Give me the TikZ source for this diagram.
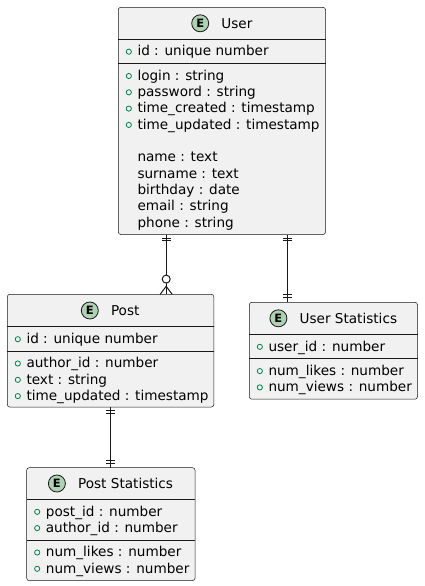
\documentclass[tikz,border=0pt]{standalone}
\usepackage{fontspec}
\setmainfont{DejaVu Sans}
\usetikzlibrary{calc}
\definecolor{boxfill}{HTML}{F1F1F1}
\definecolor{boxline}{HTML}{181818}
\definecolor{iconfill}{HTML}{ADD1B2}
\definecolor{fieldgreen}{HTML}{038048}
\newcommand{\efield}[4]{%
  \draw[fieldmark] (#2+10.5,#3+0.3) circle[radius=2.6];
  \node[fieldtext,name=#1] at (#2+19,#3+4.6) {#4};}
\newcommand{\eplain}[4]{%
  \node[fieldtext,name=#1] at (#2+19,#3+4.6) {#4};}
\begin{document}
\begin{tikzpicture}[x=1pt,y=-1pt,
  entity/.style={draw=boxline,line width=0.5pt,fill=boxfill,rounded corners=2.5pt,
    anchor=north west,inner sep=0pt,outer sep=0pt},
  hdrline/.style={draw=boxline,line width=0.5pt},
  sepline/.style={draw=boxline,line width=1pt},
  fieldmark/.style={draw=fieldgreen,line width=0.8pt},
  fieldtext/.style={anchor=base west,inner sep=0pt,text=black,font=\fontsize{13.6}{16}\selectfont},
  titletext/.style={anchor=base west,inner sep=0pt,text=black,font=\fontsize{13.6}{16}\selectfont},
  spot/.style={circle,draw=boxline,fill=iconfill,line width=0.8pt,minimum size=17pt,inner sep=0pt,
    font=\bfseries\fontsize{11.5}{12}\selectfont},
  conn/.style={draw=boxline,line width=1pt},
]
\useasboundingbox (0,0) rectangle (424,586);
\fill[white] (0,0) rectangle (424,586);

% ---------- User ----------
\node[entity,minimum width=207.2pt,minimum height=227.2pt] (user) at (118.3,7.3) {};
\draw[hdrline] (118.3,39.3) -- (325.5,39.3);
\draw[sepline] (118.3,63.6) -- (325.5,63.6);
\node[spot] (uicon) at (200.2,23.3) {E};
\node[titletext] (utitle) at (221.2,28.2) {User};
\efield{u1}{118.3}{51.4}{id : unique number}
\efield{u2}{118.3}{75.7}{login : string}
\efield{u3}{118.3}{92.0}{password : string}
\efield{u4}{118.3}{108.3}{time\_created : timestamp}
\efield{u5}{118.3}{124.6}{time\_updated : timestamp}
\eplain{u6}{118.3}{157.2}{name : text}
\eplain{u7}{118.3}{173.5}{surname : text}
\eplain{u8}{118.3}{189.8}{birthday : date}
\eplain{u9}{118.3}{206.1}{email : string}
\eplain{u10}{118.3}{222.4}{phone : string}

% ---------- Post ----------
\node[entity,minimum width=206.5pt,minimum height=112.7pt] (post) at (7.3,294.3) {};
\draw[hdrline] (7.3,326.7) -- (213.8,326.7);
\draw[sepline] (7.3,351.0) -- (213.8,351.0);
\node[spot] (picon) at (89.8,310.5) {E};
\node[titletext] (ptitle) at (110.8,315.4) {Post};
\efield{p1}{7.3}{338.9}{id : unique number}
\efield{p2}{7.3}{363.2}{author\_id : number}
\efield{p3}{7.3}{379.5}{text : string}
\efield{p4}{7.3}{395.8}{time\_updated : timestamp}

% ---------- User Statistics ----------
\node[entity,minimum width=168.2pt,minimum height=96.9pt] (ustat) at (249.3,302.3) {};
\draw[hdrline] (249.3,334.3) -- (417.5,334.3);
\draw[sepline] (249.3,358.6) -- (417.5,358.6);
\node[spot] (usicon) at (278.4,318.3) {E};
\node[titletext] (ustitle) at (299.4,323.2) {User Statistics};
\efield{s1}{249.3}{346.5}{user\_id : number}
\efield{s2}{249.3}{370.8}{num\_likes : number}
\efield{s3}{249.3}{387.1}{num\_views : number}

% ---------- Post Statistics ----------
\node[entity,minimum width=168.3pt,minimum height=112.9pt] (pstat) at (26.7,467.7) {};
\draw[hdrline] (26.7,499.3) -- (195.0,499.3);
\draw[sepline] (26.7,540.0) -- (195.0,540.0);
\node[spot] (psicon) at (56.9,483.5) {E};
\node[titletext] (pstitle) at (77.9,488.4) {Post Statistics};
\efield{t1}{26.7}{511.5}{post\_id : number}
\efield{t2}{26.7}{527.8}{author\_id : number}
\efield{t3}{26.7}{552.2}{num\_likes : number}
\efield{t4}{26.7}{568.5}{num\_views : number}

% ---------- connectors ----------
\coordinate (cx1) at (166.2,0);
\coordinate (cx2) at (287.3,0);
\coordinate (cx3) at (110.3,0);

% User ||--o{ Post
\draw[conn] (user.south -| cx1) -- (post.north -| cx1);
\draw[conn] ($(user.south -| cx1)+(-4.5,3.6)$) -- ++(9,0);
\draw[conn] ($(user.south -| cx1)+(-4.5,6.4)$) -- ++(9,0);
\draw[conn,fill=white] ($(post.north -| cx1)+(0,-15.2)$) circle[radius=4];
\draw[conn] ($(post.north -| cx1)+(-6,0)$) -- ($(post.north -| cx1)+(0,-8)$) -- ($(post.north -| cx1)+(6,0)$);

% User ||--|| User Statistics
\draw[conn] (user.south -| cx2) -- (ustat.north -| cx2);
\draw[conn] ($(user.south -| cx2)+(-4.5,3.6)$) -- ++(9,0);
\draw[conn] ($(user.south -| cx2)+(-4.5,6.4)$) -- ++(9,0);
\draw[conn] ($(ustat.north -| cx2)+(-4.5,-4.6)$) -- ++(9,0);
\draw[conn] ($(ustat.north -| cx2)+(-4.5,-7.4)$) -- ++(9,0);

% Post ||--|| Post Statistics
\draw[conn] (post.south -| cx3) -- (pstat.north -| cx3);
\draw[conn] ($(post.south -| cx3)+(-4.5,3.6)$) -- ++(9,0);
\draw[conn] ($(post.south -| cx3)+(-4.5,6.4)$) -- ++(9,0);
\draw[conn] ($(pstat.north -| cx3)+(-4.5,-4.6)$) -- ++(9,0);
\draw[conn] ($(pstat.north -| cx3)+(-4.5,-7.4)$) -- ++(9,0);
\end{tikzpicture}
\end{document}
